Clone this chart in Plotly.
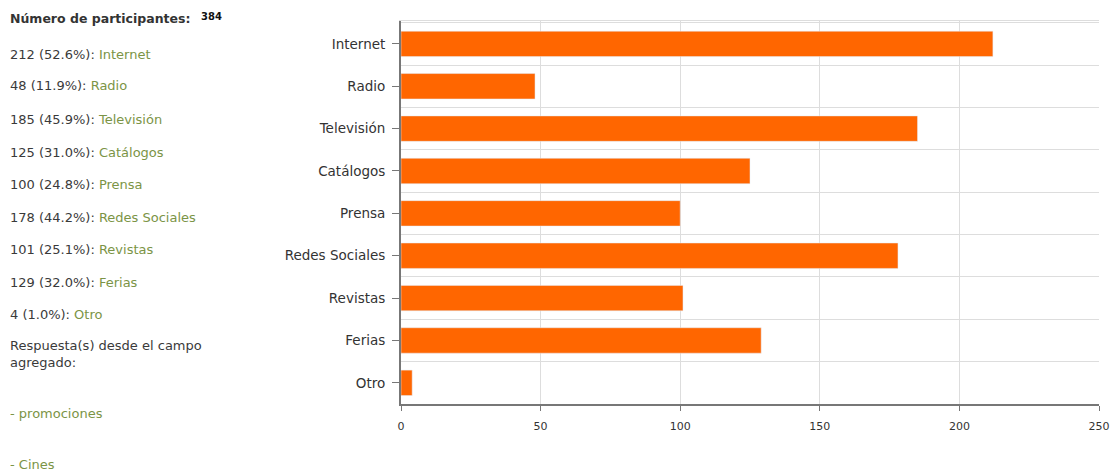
import plotly.graph_objects as go

categories = ["Internet", "Radio", "Televisión", "Catálogos", "Prensa",
              "Redes Sociales", "Revistas", "Ferias", "Otro"]
counts = [212, 48, 185, 125, 100, 178, 101, 129, 4]
percents = ["52.6", "11.9", "45.9", "31.0", "24.8", "44.2", "25.1", "32.0", "1.0"]
participants = 384
extra_answers = ["promociones", "Cines"]

W, H = 1112, 472
FONT = "DejaVu Sans"
BAR = "#FF6600"
GREEN = "#7B9446"
DARK = "#3a3a3a"

fig = go.Figure()
fig.add_trace(go.Bar(x=counts, y=categories, orientation="h",
                     marker=dict(color=BAR, line=dict(width=0)),
                     width=0.6, yaxis="y", hoverinfo="x+y"))
# invisible twin trace to draw grid lines at category boundaries
fig.add_trace(go.Bar(x=counts, y=categories, orientation="h",
                     marker=dict(color="rgba(0,0,0,0)"), width=0.6,
                     yaxis="y2", hoverinfo="skip", showlegend=False))
# invisible trace for the top frame line
fig.add_trace(go.Scatter(x=[0], y=[categories[0]], xaxis="x2", yaxis="y",
                         mode="markers", marker=dict(opacity=0),
                         hoverinfo="skip", showlegend=False))

x0, x1 = 401 / W, 1099 / W
ytop, ybot = 1 - 21 / H, 1 - 404 / H

fig.update_layout(
    width=W, height=H,
    margin=dict(l=0, r=0, t=0, b=0),
    paper_bgcolor="white", plot_bgcolor="white",
    showlegend=False,
    font=dict(family=FONT, size=12, color="#333333"),
    xaxis=dict(domain=[x0, x1], range=[0, 250], dtick=50, automargin=False,
               showgrid=True, gridcolor="#dddddd", gridwidth=1,
               showline=True, linecolor="#777777", linewidth=2,
               ticks="outside", ticklen=5, tickcolor="#777777",
               ticklabelstandoff=6,
               tickfont=dict(size=11, color="#333333"),
               zeroline=False, fixedrange=True),
    xaxis2=dict(domain=[x0, x1], range=[0, 250], overlaying="x", anchor="y",
                side="top", showgrid=False, showline=True,
                linecolor="#dddddd", linewidth=1, automargin=False,
                showticklabels=False, ticks="", zeroline=False),
    yaxis=dict(domain=[ybot, ytop], type="category", automargin=False,
               categoryorder="array", categoryarray=categories,
               autorange="reversed",
               showgrid=False, showline=True, linecolor="#777777", linewidth=2,
               ticks="outside", ticklen=7, tickcolor="#777777",
               ticklabelstandoff=4,
               tickfont=dict(size=13.5, color="#333333")),
    yaxis2=dict(domain=[ybot, ytop], type="category", overlaying="y",
                matches="y", categoryorder="array", categoryarray=categories,
                tickson="boundaries", showgrid=True, gridcolor="#dddddd",
                showticklabels=False, ticks="", showline=False,
                automargin=False),
    bargap=0.4,
)

ann = []
def px_y(y):
    return 1 - y / H

LX = 8 / W
ann.append(dict(x=LX, y=px_y(18), xref="paper", yref="paper",
                xanchor="left", yanchor="middle", showarrow=False,
                text="<b>Número de participantes:</b>",
                font=dict(family=FONT, size=12.5, color="#333333")))
ann.append(dict(x=199 / W, y=px_y(16), xref="paper", yref="paper",
                xanchor="left", yanchor="middle", showarrow=False,
                text="<b>%d</b>" % participants,
                font=dict(family=FONT, size=10, color="#111111")))

line_y = [54, 86, 119, 152, 184, 217, 249, 282, 314]
for cat, c, p, yy in zip(categories, counts, percents, line_y):
    ann.append(dict(x=LX, y=px_y(yy), xref="paper", yref="paper",
                    xanchor="left", yanchor="middle", showarrow=False,
                    text="%d (%s%%): <span style='color:%s'>%s</span>"
                         % (c, p, GREEN, cat),
                    font=dict(family=FONT, size=13, color=DARK)))

ann.append(dict(x=LX, y=px_y(354), xref="paper", yref="paper",
                xanchor="left", yanchor="middle", showarrow=False, align="left",
                text="Respuesta(s) desde el campo<br>agregado:",
                font=dict(family=FONT, size=13, color=DARK)))
for txt, yy in zip(extra_answers, [413, 464]):
    ann.append(dict(x=LX, y=px_y(yy), xref="paper", yref="paper",
                    xanchor="left", yanchor="middle", showarrow=False,
                    text="- %s" % txt,
                    font=dict(family=FONT, size=13, color=GREEN)))

fig.update_layout(annotations=ann)

fig.write_html("out.html")
